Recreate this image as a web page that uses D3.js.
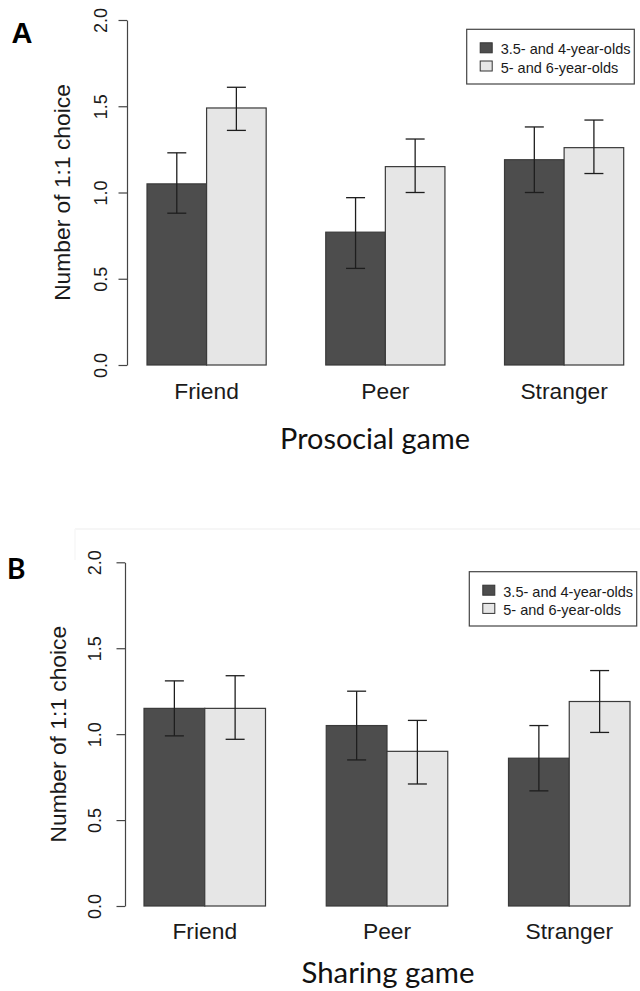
<!DOCTYPE html>
<html>
<head>
<meta charset="utf-8">
<script src="https://cdn.jsdelivr.net/npm/d3@7/dist/d3.min.js"></script>
<style>
  html, body { margin: 0; padding: 0; background: #fff; }
  svg { display: block; }
</style>
</head>
<body>
<svg id="chart" width="640" height="991"></svg>
<script>
// ---------- data ----------
const categories = ["Friend", "Peer", "Stranger"];
const seriesNames = ["3.5- and 4-year-olds", "5- and 6-year-olds"];
const yTicks = [0, 0.5, 1.0, 1.5, 2.0];

// Panel A: Prosocial game
const prosocialYoung   = [1.05, 0.77, 1.19];
const prosocialYoungLo = [0.88, 0.56, 1.00];
const prosocialYoungHi = [1.23, 0.97, 1.38];
const prosocialOld     = [1.49, 1.15, 1.26];
const prosocialOldLo   = [1.36, 1.00, 1.11];
const prosocialOldHi   = [1.61, 1.31, 1.42];

// Panel B: Sharing game
const sharingYoung   = [1.15, 1.05, 0.86];
const sharingYoungLo = [0.99, 0.85, 0.67];
const sharingYoungHi = [1.31, 1.25, 1.05];
const sharingOld     = [1.15, 0.90, 1.19];
const sharingOldLo   = [0.97, 0.71, 1.01];
const sharingOldHi   = [1.34, 1.08, 1.37];

const fills = ["#4d4d4d", "#e6e6e6"];
const ARIAL = "'Liberation Sans', Arial, Helvetica, sans-serif";
const CALIBRI = "Lato, 'Open Sans', sans-serif";

const svg = d3.select("#chart");

// faint image-edge artifact above panel B
svg.append("line").attr("x1", 75).attr("x2", 640).attr("y1", 529).attr("y2", 529)
  .attr("stroke", "#f3f3f3").attr("stroke-width", 1.5);
svg.append("line").attr("x1", 75).attr("x2", 75).attr("y1", 529).attr("y2", 560)
  .attr("stroke", "#f7f7f7").attr("stroke-width", 1.5);

function fitText(sel, targetWidth) {
  const node = sel.node();
  const fs = parseFloat(sel.attr("font-size"));
  const w = node.getComputedTextLength();
  if (w > 0) sel.attr("font-size", (fs * targetWidth / w).toFixed(2));
}

function panel(cfg) {
  const g = svg.append("g");
  const y = d3.scaleLinear().domain([0, 2]).range([cfg.y0, cfg.y2]);
  const x = d3.scaleBand().domain(categories).range([cfg.xL, cfg.xR])
    .paddingInner(1 / 3).paddingOuter(0);
  const xs = d3.scaleBand().domain(seriesNames).range([0, x.bandwidth()]);

  const rows = [];
  categories.forEach((c, i) => {
    rows.push({ c, s: seriesNames[0], v: cfg.young[i], lo: cfg.youngLo[i], hi: cfg.youngHi[i], k: 0 });
    rows.push({ c, s: seriesNames[1], v: cfg.old[i], lo: cfg.oldLo[i], hi: cfg.oldHi[i], k: 1 });
  });

  // bars
  g.selectAll("rect.bar").data(rows).join("rect").attr("class", "bar")
    .attr("x", d => x(d.c) + xs(d.s))
    .attr("width", xs.bandwidth())
    .attr("y", d => y(d.v))
    .attr("height", d => y(0) - y(d.v))
    .attr("fill", d => fills[d.k])
    .attr("stroke", "#3a3a3a").attr("stroke-width", 1.2);

  // error bars
  const cap = 9.5;
  const eb = g.selectAll("g.err").data(rows).join("g").attr("class", "err")
    .attr("stroke", "#1e1e1e").attr("stroke-width", 1.3);
  eb.append("line")
    .attr("x1", d => x(d.c) + xs(d.s) + xs.bandwidth() / 2)
    .attr("x2", d => x(d.c) + xs(d.s) + xs.bandwidth() / 2)
    .attr("y1", d => y(d.lo)).attr("y2", d => y(d.hi));
  eb.append("line")
    .attr("x1", d => x(d.c) + xs(d.s) + xs.bandwidth() / 2 - cap)
    .attr("x2", d => x(d.c) + xs(d.s) + xs.bandwidth() / 2 + cap)
    .attr("y1", d => y(d.hi)).attr("y2", d => y(d.hi));
  eb.append("line")
    .attr("x1", d => x(d.c) + xs(d.s) + xs.bandwidth() / 2 - cap)
    .attr("x2", d => x(d.c) + xs(d.s) + xs.bandwidth() / 2 + cap)
    .attr("y1", d => y(d.lo)).attr("y2", d => y(d.lo));

  // y axis
  const ax = g.append("g").attr("transform", `translate(${cfg.axisX},0)`)
    .call(d3.axisLeft(y).tickValues(yTicks).tickFormat(d3.format(".1f"))
      .tickSize(8.5).tickSizeOuter(0));
  ax.select(".domain").attr("stroke", "#444").attr("stroke-width", 1.2);
  ax.selectAll(".tick line").attr("stroke", "#444").attr("stroke-width", 1.2);
  ax.selectAll(".tick text")
    .attr("font-family", ARIAL).attr("font-size", 18).attr("fill", "#1a1a1a")
    .attr("x", null).attr("dy", null)
    .attr("text-anchor", "middle")
    .attr("transform", `translate(${cfg.tickLabelX - cfg.axisX},0) rotate(-90)`);

  // y axis title
  g.append("text")
    .attr("transform", `translate(${cfg.titleX},${(y(0) + y(2)) / 2}) rotate(-90)`)
    .attr("text-anchor", "middle")
    .attr("font-family", ARIAL).attr("font-size", 22.8).attr("fill", "#1a1a1a")
    .text("Number of 1:1 choice");

  // category labels
  g.selectAll("text.cat").data(categories).join("text").attr("class", "cat")
    .attr("x", d => x(d) + x.bandwidth() / 2)
    .attr("y", cfg.catY)
    .attr("text-anchor", "middle")
    .attr("font-family", ARIAL).attr("font-size", 22.8).attr("fill", "#1a1a1a")
    .text(d => d);

  // x title
  const xt = g.append("text")
    .attr("x", cfg.xTitleX).attr("y", cfg.xTitleY)
    .attr("text-anchor", "middle")
    .attr("font-family", CALIBRI).attr("font-size", 28).attr("fill", "#111")
    .text(cfg.xTitle);
  fitText(xt, cfg.xTitleW);

  // panel letter
  g.append("text")
    .attr("x", cfg.letterX).attr("y", cfg.letterY)
    .attr("font-family", cfg.letterFont).attr("font-weight", "bold")
    .attr("font-size", cfg.letterSize).attr("fill", "#000")
    .text(cfg.letter);

  // legend
  const lg = g.append("g");
  lg.append("rect")
    .attr("x", cfg.legX).attr("y", cfg.legY).attr("width", cfg.legW).attr("height", cfg.legH)
    .attr("fill", "#fff").attr("stroke", "#444").attr("stroke-width", 1.2);
  seriesNames.forEach((s, i) => {
    lg.append("rect")
      .attr("x", cfg.legX + 13.5).attr("y", cfg.legY + 13.5 + i * 18.2)
      .attr("width", 12).attr("height", 10)
      .attr("fill", fills[i]).attr("stroke", "#333").attr("stroke-width", 1);
    lg.append("text")
      .attr("x", cfg.legX + 34).attr("y", cfg.legY + 25 + i * 18.2)
      .attr("font-family", ARIAL).attr("font-size", 14.5).attr("fill", "#1a1a1a")
      .text(s);
  });
}

panel({
  young: prosocialYoung, youngLo: prosocialYoungLo, youngHi: prosocialYoungHi,
  old: prosocialOld, oldLo: prosocialOldLo, oldHi: prosocialOldHi,
  y0: 365, y2: 20, xL: 147, xR: 623.7, axisX: 127, tickLabelX: 106.5, titleX: 70,
  catY: 398.5, xTitle: "Prosocial game", xTitleX: 375, xTitleY: 448.5, xTitleW: 190,
  letter: "A", letterX: 11.5, letterY: 42.7, letterSize: 29, letterFont: ARIAL,
  legX: 466.7, legY: 29.3, legW: 167.6, legH: 54.7
});

panel({
  young: sharingYoung, youngLo: sharingYoungLo, youngHi: sharingYoungHi,
  old: sharingOld, oldLo: sharingOldLo, oldHi: sharingOldHi,
  y0: 906, y2: 562.3, xL: 144, xR: 630, axisX: 125, tickLabelX: 101, titleX: 66,
  catY: 938.5, xTitle: "Sharing game", xTitleX: 388, xTitleY: 983, xTitleW: 173,
  letter: "B", letterX: 7, letterY: 579, letterSize: 28, letterFont: CALIBRI,
  legX: 469.3, legY: 571.7, legW: 167.4, legH: 54.3
});
</script>
</body>
</html>
